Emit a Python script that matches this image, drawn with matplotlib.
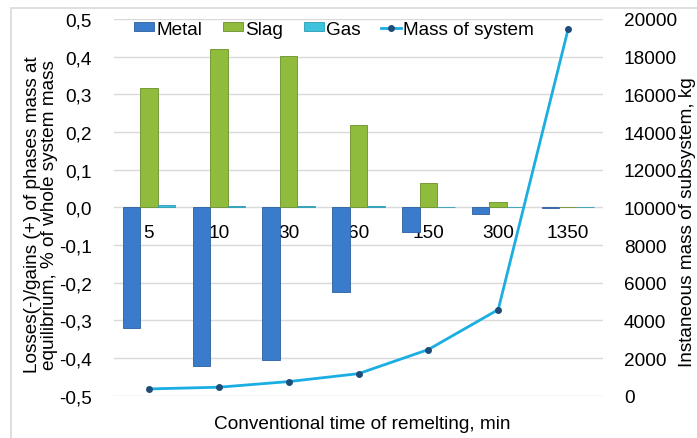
import numpy as np
import matplotlib.pyplot as plt
from matplotlib.patches import Rectangle
from matplotlib.ticker import FuncFormatter

plt.rcParams['font.family'] = ['Liberation Sans', 'DejaVu Sans']
plt.rcParams['font.size'] = 13.7

# remelting time, min
times = ['5', '10', '30', '60', '150', '300', '1350']
# losses(-)/gains(+) of phase mass, % of whole system mass
metal = [-0.320, -0.422, -0.406, -0.224, -0.065, -0.018, -0.001]
slag = [0.316, 0.420, 0.401, 0.218, 0.064, 0.015, 0.001]
gas = [0.005, 0.003, 0.004, 0.004, 0.002, 0.001, 0.0005]
# instantaneous mass of subsystem, kg
mass = [360, 450, 750, 1170, 2450, 4570, 19450]

c_metal = '#3b7bcc'
c_slag = '#8fbc3c'
c_gas = '#3ec3dc'
c_line = '#1aaee2'
c_mark = '#1f4d7a'
c_grid = '#d9d9d9'

fig = plt.figure(figsize=(6.97, 4.39), dpi=100)
# chart frame
fig.patches.append(Rectangle((11 / 697, -0.1), 1.2, 1 - 9 / 439 + 0.1,
                             transform=fig.transFigure, fill=False,
                             edgecolor='#d9d9d9', linewidth=1.2))

ax = fig.add_axes([114 / 697, 1 - 396.7 / 439, 489 / 697, 376.7 / 439])
x = np.arange(len(times))
w = 0.25
ax.bar(x - w, metal, w, color=c_metal, edgecolor='#2c5f9e', linewidth=0.6, label='Metal', zorder=3)
ax.bar(x, slag, w, color=c_slag, edgecolor='#6b8f2a', linewidth=0.6, label='Slag', zorder=3)
ax.bar(x + w, gas, w, color=c_gas, edgecolor='#2a9bb5', linewidth=0.6, label='Gas', zorder=3)

ax.set_xlim(-0.5, len(times) - 0.5)
ax.set_ylim(-0.5, 0.5)
ax.set_yticks(np.arange(-0.5, 0.51, 0.1))
ax.yaxis.set_major_formatter(FuncFormatter(lambda v, p: f'{v:.1f}'.replace('.', ',').replace('-0,0', '0,0')))
ax.grid(axis='y', color=c_grid, linewidth=1, zorder=0)
for s in ax.spines.values():
    s.set_visible(False)
# category labels sit just under the zero line
ax.spines['bottom'].set_position(('data', 0))
ax.set_xticks(x)
ax.set_xticklabels(times)
ax.tick_params(axis='x', length=0, pad=12)
ax.tick_params(axis='y', length=0, pad=16)
fig.text(41 / 697, 1 - 215 / 439,
         'Losses(-)/gains (+) of phases mass at\nequilibrium, % of whole system mass',
         rotation=90, ha='center', va='center', linespacing=0.95)
fig.text(362 / 697, 1 - 425 / 439, 'Conventional time of remelting, min',
         ha='center', va='center')

ax2 = ax.twinx()
ax2.plot(x, mass, color=c_line, linewidth=2, marker='o', markersize=4,
         markerfacecolor=c_mark, markeredgecolor=c_mark, label='Mass of system', zorder=4)
ax2.set_ylim(0, 20000)
ax2.set_yticks(np.arange(0, 20001, 2000))
for s in ax2.spines.values():
    s.set_visible(False)
ax2.tick_params(axis='y', length=0, pad=15)
fig.text(687 / 697, 1 - 222 / 439, 'Instaneous mass of subsystem, kg',
         rotation=90, ha='center', va='center')

h1, l1 = ax.get_legend_handles_labels()
h2, l2 = ax2.get_legend_handles_labels()
ax2.legend(h1 + h2, l1 + l2, loc='center', bbox_to_anchor=(0.45, 0.973), ncol=4,
           frameon=False, handlelength=1.05, handleheight=0.37, handletextpad=0.1,
           columnspacing=1.1, borderpad=0.2)

fig.savefig('out.png', dpi=100)
